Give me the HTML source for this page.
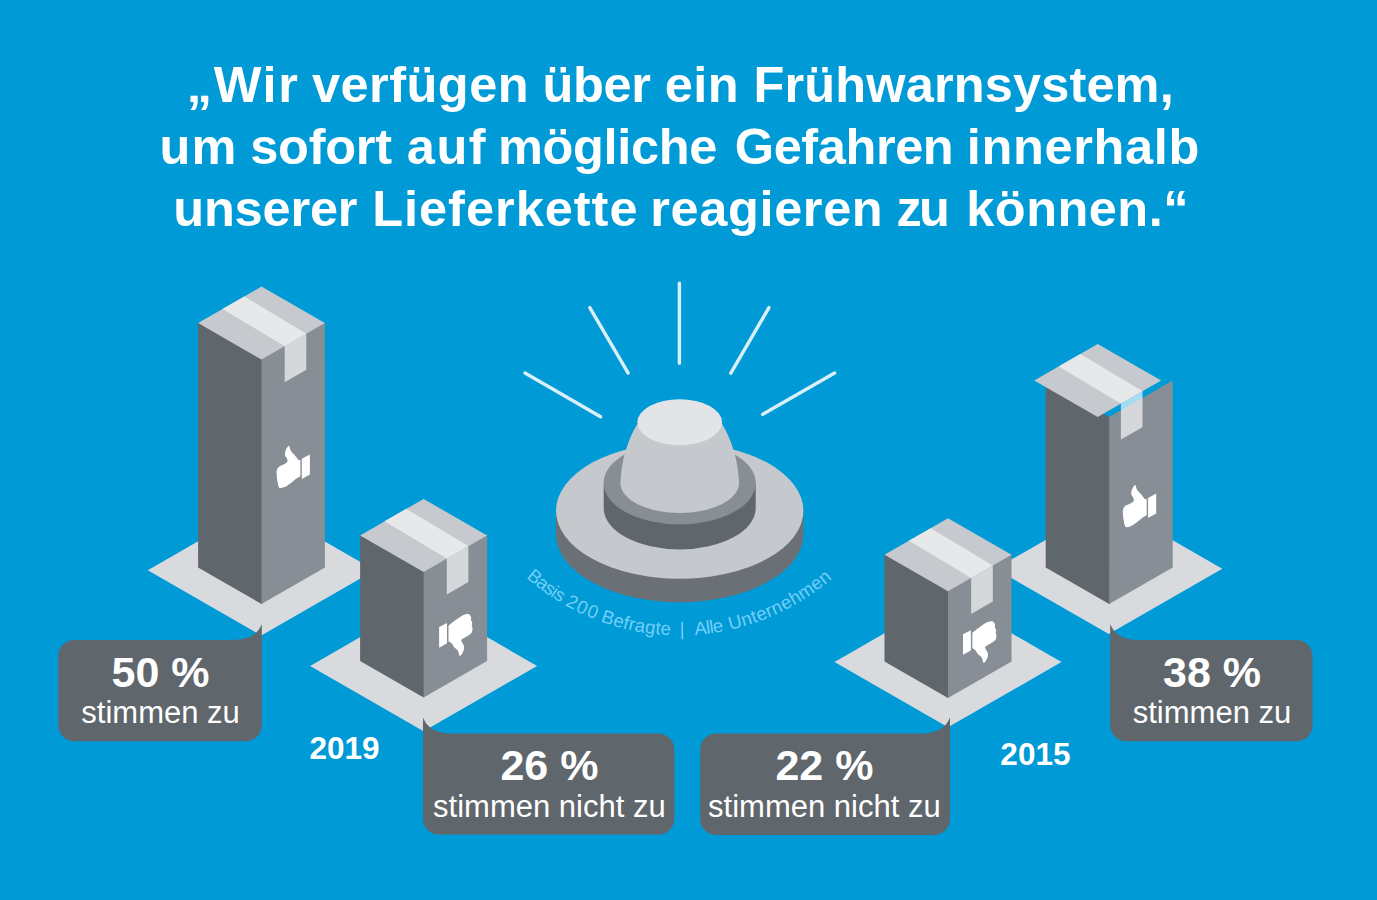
<!DOCTYPE html>
<html lang="de">
<head>
<meta charset="utf-8">
<title>Frühwarnsystem Lieferkette</title>
<style>
html,body{margin:0;padding:0;background:#009AD6;}
body{width:1377px;height:900px;overflow:hidden;font-family:"Liberation Sans",sans-serif;}
svg{display:block;font-family:"Liberation Sans",sans-serif;}
</style>
</head>
<body>
<svg width="1377" height="900" viewBox="0 0 1377 900">
<rect width="1377" height="900" fill="#009AD6"/>
<polygon fill="#D8DADD" points="261.3,504.9 374.8,570.2 261.3,635.5 147.8,570.2"/>
<polygon fill="#D8DADD" points="1108.8,503.5 1222.3,568.8 1108.8,634.1 995.3,568.8"/>
<polygon fill="#D8DADD" points="423.6,600.6 537.1,665.9 423.6,731.2 310.1,665.9"/>
<polygon fill="#D8DADD" points="948,596.7 1061.5,662 948,727.3 834.5,662"/>
<polygon fill="#5F666C" points="198.1,321.9 262.7,359.1 262.7,603.3 261.5,604 198.1,567.5"/>
<polygon fill="#878E95" points="261.5,358.4 324.9,321.9 324.9,567.5 261.5,604"/>
<polygon fill="#D5D8DB" points="284.7,346.2 306.3,333.8 306.3,369.8 284.7,382.2"/>
<polygon fill="#C6C9CD" points="261.5,286.6 324.9,323.1 261.5,359.6 198.1,323.1"/>
<polygon fill="#E7E8EA" points="244.3,296.5 306.3,333.8 284.7,346.2 222.5,309"/>
<g fill="#fff"><polygon points="301.8,458.8 309.9,454.5 309.9,474.4 301.8,479"/><path d="M289.19 445.83C289.91 447.27 289.91 449.08 290.63 450.52C291.71 452.69 293.88 454.13 295.32 455.94C296.55 457.24 297.49 458.47 298.36 459.91L300.38 459.91L300.38 476.16C298.94 476.88 297.49 477.6 296.05 478.68C293.88 480.34 292.29 482.08 290.27 483.38C288.25 484.82 285.94 486.41 283.77 487.35C282.33 487.92 280.88 488.29 279.8 488.07C279.08 487.71 278.5 486.62 278.29 485.4Q277.42 483.95 277.85 482.29Q276.77 480.85 277.27 479.04Q276.34 477.24 276.77 475.07Q276.19 472.91 276.7 470.74C277.13 468.57 278.14 467.27 279.44 466.41C281.75 465.18 284.49 464.24 286.66 462.8C287.53 461.86 287.74 460.63 287.38 459.55C286.66 457.53 284.64 455.94 284.86 453.77C285 451.75 285.94 449.8 286.66 448.36C287.24 447.27 288.1 445.97 289.19 445.83Z"/></g>
<polygon fill="#5F666C" points="1045.7,380.5 1110.4,417.7 1110.4,603.3 1109.2,604 1045.7,567.5"/>
<polygon fill="#878E95" points="1109.2,417 1172.7,380.5 1172.7,567.5 1109.2,604"/>
<polygon fill="#fff" fill-opacity="0.65" points="1120.9,403.6 1142.5,391.2 1142.5,427.2 1120.9,439.6"/>
<polygon fill="#C6C9CD" points="1097.7,344 1161.2,380.5 1097.7,417 1034.2,380.5"/>
<polygon fill="#E7E8EA" points="1080.4,353.9 1142.5,391.2 1120.9,403.6 1058.6,366.4"/>
<g transform="translate(846.3,39.1)"><g fill="#fff"><polygon points="301.8,458.8 309.9,454.5 309.9,474.4 301.8,479"/><path d="M289.19 445.83C289.91 447.27 289.91 449.08 290.63 450.52C291.71 452.69 293.88 454.13 295.32 455.94C296.55 457.24 297.49 458.47 298.36 459.91L300.38 459.91L300.38 476.16C298.94 476.88 297.49 477.6 296.05 478.68C293.88 480.34 292.29 482.08 290.27 483.38C288.25 484.82 285.94 486.41 283.77 487.35C282.33 487.92 280.88 488.29 279.8 488.07C279.08 487.71 278.5 486.62 278.29 485.4Q277.42 483.95 277.85 482.29Q276.77 480.85 277.27 479.04Q276.34 477.24 276.77 475.07Q276.19 472.91 276.7 470.74C277.13 468.57 278.14 467.27 279.44 466.41C281.75 465.18 284.49 464.24 286.66 462.8C287.53 461.86 287.74 460.63 287.38 459.55C286.66 457.53 284.64 455.94 284.86 453.77C285 451.75 285.94 449.8 286.66 448.36C287.24 447.27 288.1 445.97 289.19 445.83Z"/></g></g>
<polygon fill="#5F666C" points="360.1,534.2 424.8,571.4 424.8,696.7 423.6,697.4 360.1,660.9"/>
<polygon fill="#878E95" points="423.6,570.7 487.1,534.2 487.1,660.9 423.6,697.4"/>
<polygon fill="#D5D8DB" points="446.8,558.5 468.4,546.1 468.4,582.1 446.8,594.5"/>
<polygon fill="#C6C9CD" points="423.6,498.9 487.1,535.4 423.6,571.9 360.1,535.4"/>
<polygon fill="#E7E8EA" points="406.3,508.8 468.4,546.1 446.8,558.5 384.5,521.3"/>
<g fill="#fff"><polygon points="439.1,627.1 447,623.1 447,643.3 439.1,647.7"/><path d="M448.47 625.63C450.85 623.47 453.52 621.52 456.05 619.86C458.21 618.41 460.38 616.61 462.55 615.52C464.35 614.66 466.16 614.08 467.6 614.08C468.68 614.08 469.62 614.58 470.13 615.52Q471.35 616.97 471.21 618.92L470.63 619.86Q472.44 621.66 472.29 623.97L471.64 625.27Q472.94 627.8 472.36 630.32Q472.08 632.13 471.21 633.21C470.34 634.08 469.4 634.8 468.32 635.38C466.88 636.25 465.29 636.97 463.99 637.91C462.91 638.63 461.68 639.35 461.1 640.07C461.46 642.24 463.27 644.04 463.99 646.21C464.57 648.38 463.63 650.9 462.55 652.71C461.82 654.01 460.96 655.6 459.66 655.96C458.79 654.87 458.79 652.71 458.21 651.26C457.35 649.46 455.32 648.52 453.88 646.93C453.01 645.85 452.58 644.4 451.71 643.32C450.85 642.45 449.4 641.88 448.47 641.16Z"/></g>
<polygon fill="#5F666C" points="884.5,553.6 949.2,590.8 949.2,697.3 948,698 884.5,661.5"/>
<polygon fill="#878E95" points="948,590.1 1011.5,553.6 1011.5,661.5 948,698"/>
<polygon fill="#D5D8DB" points="971.2,577.9 992.8,565.5 992.8,601.5 971.2,613.9"/>
<polygon fill="#C6C9CD" points="948,518.3 1011.5,554.8 948,591.3 884.5,554.8"/>
<polygon fill="#E7E8EA" points="930.7,528.2 992.8,565.5 971.2,577.9 908.9,540.7"/>
<g transform="translate(523.9,7.1)"><g fill="#fff"><polygon points="439.1,627.1 447,623.1 447,643.3 439.1,647.7"/><path d="M448.47 625.63C450.85 623.47 453.52 621.52 456.05 619.86C458.21 618.41 460.38 616.61 462.55 615.52C464.35 614.66 466.16 614.08 467.6 614.08C468.68 614.08 469.62 614.58 470.13 615.52Q471.35 616.97 471.21 618.92L470.63 619.86Q472.44 621.66 472.29 623.97L471.64 625.27Q472.94 627.8 472.36 630.32Q472.08 632.13 471.21 633.21C470.34 634.08 469.4 634.8 468.32 635.38C466.88 636.25 465.29 636.97 463.99 637.91C462.91 638.63 461.68 639.35 461.1 640.07C461.46 642.24 463.27 644.04 463.99 646.21C464.57 648.38 463.63 650.9 462.55 652.71C461.82 654.01 460.96 655.6 459.66 655.96C458.79 654.87 458.79 652.71 458.21 651.26C457.35 649.46 455.32 648.52 453.88 646.93C453.01 645.85 452.58 644.4 451.71 643.32C450.85 642.45 449.4 641.88 448.47 641.16Z"/></g></g>
<path fill="#5F666C" d="M74.3,639.9 L231.8,639.9 C250.9,639.9 257.9,633.1 261.8,623.9 L261.8,725.2 A16,16 0 0 1 245.8,741.2 L74.3,741.2 A16,16 0 0 1 58.3,725.2 L58.3,655.9 A16,16 0 0 1 74.3,639.9 Z"/>
<path fill="#5F666C" d="M453,733.6 L658.3,733.6 A16,16 0 0 1 674.3,749.6 L674.3,818.6 A16,16 0 0 1 658.3,834.6 L439,834.6 A16,16 0 0 1 423,818.6 L423,717.6 C426.9,726.8 433.9,733.6 453,733.6 Z"/>
<path fill="#5F666C" d="M716.2,733.5 L920,733.5 C939,733.5 946,726.7 950,717.5 L950,819 A16,16 0 0 1 934,835 L716.2,835 A16,16 0 0 1 700.2,819 L700.2,749.5 A16,16 0 0 1 716.2,733.5 Z"/>
<path fill="#5F666C" d="M1140.2,640 L1296.6,640 A16,16 0 0 1 1312.6,656 L1312.6,725.2 A16,16 0 0 1 1296.6,741.2 L1126.2,741.2 A16,16 0 0 1 1110.2,725.2 L1110.2,624 C1114.2,633.2 1121.2,640 1140.2,640 Z"/>
<g stroke="#D9F0FB" stroke-width="3.4" stroke-linecap="round"><line x1="679.4" y1="283.3" x2="679.4" y2="363.3"/><line x1="589.8" y1="307.6" x2="628.2" y2="373.1"/><line x1="769" y1="307.6" x2="730.8" y2="373.1"/><line x1="525" y1="373" x2="600.6" y2="416.8"/><line x1="834.6" y1="373" x2="762.7" y2="414.4"/></g>
<path fill="#6A7076" d="M556,510.7 L556,534.2 A123.7,68 0 0 0 803.4,534.2 L803.4,510.7 Z"/>
<ellipse cx="679.7" cy="510.7" rx="123.7" ry="68" fill="#C5C8CC"/>
<path fill="#5F666C" d="M603.7,483 L603.7,508 A76,41.5 0 0 0 755.7,508 L755.7,483 Z"/>
<ellipse cx="679.7" cy="483" rx="76" ry="41.5" fill="#878E95"/>
<path fill="#C5C8CC" d="M637.3,424 Q621.7,450 620.4,483 A59.3,30 0 0 0 739,483 Q737.7,450 722.1,424 Z"/>
<ellipse cx="679.7" cy="422.3" rx="42.4" ry="23" fill="#E2E4E7"/>
<path id="arc" fill="none" d="M526,577.5 A232.8,232.8 0 0 0 833.5,577.2"/>
<text font-size="18.5" fill="#72CFF7"><textPath href="#arc" startOffset="0" textLength="42.9" lengthAdjust="spacing">Basis</textPath></text>
<text font-size="18.5" fill="#72CFF7"><textPath href="#arc" startOffset="47.7" textLength="33.7" lengthAdjust="spacing">200</textPath></text>
<text font-size="18.5" fill="#72CFF7"><textPath href="#arc" startOffset="86.7" textLength="72" lengthAdjust="spacing">Befragte</textPath></text>
<text font-size="18.5" fill="#72CFF7"><textPath href="#arc" startOffset="167.9" textLength="4.9" lengthAdjust="spacing">|</textPath></text>
<text font-size="18.5" fill="#72CFF7"><textPath href="#arc" startOffset="183" textLength="29.1" lengthAdjust="spacing">Alle</textPath></text>
<text font-size="18.5" fill="#72CFF7"><textPath href="#arc" startOffset="218.4" textLength="115.7" lengthAdjust="spacing">Unternehmen</textPath></text>
<g font-weight="bold" font-size="50.5" fill="#fff">
<text x="186.7" y="102.2" textLength="111.3" lengthAdjust="spacing">„Wir</text>
<text x="311.9" y="102.2" textLength="216.7" lengthAdjust="spacing">verfügen</text>
<text x="542.5" y="102.2" textLength="108.5" lengthAdjust="spacing">über</text>
<text x="664.8" y="102.2" textLength="73.8" lengthAdjust="spacing">ein</text>
<text x="753.4" y="102.2" textLength="420.3" lengthAdjust="spacing">Frühwarnsystem,</text>
<text x="159.5" y="164" textLength="76.8" lengthAdjust="spacing">um</text>
<text x="250.3" y="164" textLength="141.7" lengthAdjust="spacing">sofort</text>
<text x="406.8" y="164" textLength="78.9" lengthAdjust="spacing">auf</text>
<text x="498" y="164" textLength="219.3" lengthAdjust="spacing">mögliche</text>
<text x="734.8" y="164" textLength="218.9" lengthAdjust="spacing">Gefahren</text>
<text x="966.8" y="164" textLength="232.5" lengthAdjust="spacing">innerhalb</text>
<text x="173.2" y="225.6" textLength="184.3" lengthAdjust="spacing">unserer</text>
<text x="372.2" y="225.6" textLength="265.3" lengthAdjust="spacing">Lieferkette</text>
<text x="650.3" y="225.6" textLength="232.4" lengthAdjust="spacing">reagieren</text>
<text x="896.4" y="225.6" textLength="53.4" lengthAdjust="spacing">zu</text>
<text x="966.3" y="225.6" textLength="222.1" lengthAdjust="spacing">können.“</text>
</g>
<text x="160.6" y="686.5" font-weight="bold" font-size="43" fill="#fff" text-anchor="middle">50 %</text><text x="160.6" y="723.2" font-size="31" fill="#fff" text-anchor="middle">stimmen zu</text>
<text x="549.4" y="779.6" font-weight="bold" font-size="43" fill="#fff" text-anchor="middle">26 %</text><text x="549.4" y="816.9" font-size="31" fill="#fff" text-anchor="middle">stimmen nicht zu</text>
<text x="824.4" y="779.9" font-weight="bold" font-size="43" fill="#fff" text-anchor="middle">22 %</text><text x="824.4" y="816.8" font-size="31" fill="#fff" text-anchor="middle">stimmen nicht zu</text>
<text x="1212" y="686.5" font-weight="bold" font-size="43" fill="#fff" text-anchor="middle">38 %</text><text x="1212" y="723.1" font-size="31" fill="#fff" text-anchor="middle">stimmen zu</text>
<text x="344.5" y="758.8" font-weight="bold" font-size="31.5" fill="#fff" text-anchor="middle">2019</text>
<text x="1035.4" y="764.5" font-weight="bold" font-size="31.5" fill="#fff" text-anchor="middle">2015</text>
</svg>
</body>
</html>
